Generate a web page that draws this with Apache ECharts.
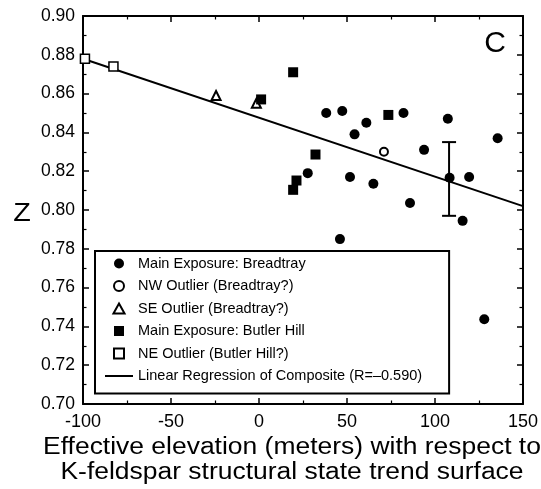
<!DOCTYPE html>
<html>
<head>
<meta charset="utf-8">
<script src="https://cdn.jsdelivr.net/npm/echarts@6/dist/echarts.min.js"></script>
<style>
  html, body { margin: 0; padding: 0; background: #fff; }
  #chart { width: 541px; height: 489px; }
</style>
</head>
<body>
<div id="chart"></div>
<script>
// tick labels
const xTicks = [-100, -50, 0, 50, 100, 150];
const yTicks = [0.70, 0.72, 0.74, 0.76, 0.78, 0.80, 0.82, 0.84, 0.86, 0.88, 0.90];

// Main Exposure: Breadtray (filled circles)
const breadtrayX = [38.2, 47.3, 61, 54.3, 82.1, 107.3, 135.6, 93.8, 27.7, 51.7, 65, 108.3, 119.4, 85.8, 115.7, 46, 128];
const breadtrayY = [0.850, 0.851, 0.845, 0.839, 0.850, 0.847, 0.837, 0.831, 0.819, 0.817, 0.8135, 0.8166, 0.817, 0.8036, 0.7944, 0.785, 0.7437];
// NW Outlier (open circle)
const nwX = [71];
const nwY = [0.830];
// SE Outlier (open triangles)
const seX = [-24.4, -1.5];
const seY = [0.859, 0.855];
// Main Exposure: Butler Hill (filled squares)
const butlerX = [1.2, 19.4, 73.5, 32.1, 21.3, 19.4];
const butlerY = [0.857, 0.871, 0.849, 0.8286, 0.8152, 0.8104];
// NE Outlier (open squares)
const neX = [-98.9, -82.7];
const neY = [0.878, 0.874];
// regression line end points
const regX = [-100, 150];
const regY = [0.878, 0.802];
// error bar
const errX = [108];
const errLow = [0.797];
const errHigh = [0.835];

const zip = (xs, ys) => xs.map((x, i) => [x, ys[i]]);

const FONT = "'Liberation Sans', Arial, Helvetica, sans-serif";
const names = [
  "Main Exposure: Breadtray",
  "NW Outlier (Breadtray?)",
  "SE Outlier (Breadtray?)",
  "Main Exposure: Butler Hill",
  "NE Outlier (Butler Hill?)",
  "Linear Regression of Composite (R=\u20130.590)",
];

const baseX = {
  type: "value",
  min: xTicks[0],
  max: xTicks[xTicks.length - 1],
  interval: xTicks[1] - xTicks[0],
  splitLine: { show: false },
  axisLine: { show: true, onZero: false, lineStyle: { color: "#000", width: 2 } },
  axisTick: { show: true, inside: true, length: 6, lineStyle: { color: "#000", width: 1.5 } },
  minorTick: { show: true, splitNumber: 2, length: 3.5, lineStyle: { color: "#000", width: 1.2 } },
};
const baseY = {
  type: "value",
  min: yTicks[0],
  max: yTicks[yTicks.length - 1],
  interval: 0.02,
  splitLine: { show: false },
  axisLine: { show: true, onZero: false, lineStyle: { color: "#000", width: 2 } },
  axisTick: { show: true, inside: true, length: 6, lineStyle: { color: "#000", width: 1.5 } },
  minorTick: { show: true, splitNumber: 2, length: 3.5, lineStyle: { color: "#000", width: 1.2 } },
};

const myChart = echarts.init(document.getElementById("chart"));

// square/triangle legend icons as paths so they keep their aspect
const triIcon = "path://M5 0L10 9L0 9Z";
const sqIcon = "path://M0 0H10V10H0Z";

const option = {
  animation: false,
  backgroundColor: "#fff",
  grid: { left: 83, right: 18, top: 16, bottom: 85 },
  xAxis: [
    Object.assign({}, baseX, {
      position: "bottom",
      axisLabel: { margin: 9, color: "#000", fontSize: 18, fontFamily: FONT },
    }),
    Object.assign({}, baseX, { position: "top", axisLabel: { show: false } }),
  ],
  yAxis: [
    Object.assign({}, baseY, {
      position: "left",
      axisLabel: {
        margin: 8, color: "#000", fontSize: 17.5, fontFamily: FONT,
        formatter: (v) => v.toFixed(2),
      },
    }),
    Object.assign({}, baseY, { position: "right", axisLabel: { show: false } }),
  ],
  legend: {
    orient: "vertical",
    left: 95,
    top: 251,
    padding: [5, 27, 10, 10],
    borderColor: "#000",
    borderWidth: 2,
    backgroundColor: "#fff",
    itemWidth: 28,
    itemHeight: 10,
    itemGap: 7.5,
    symbolKeepAspect: true,
    selectedMode: false,
    textStyle: { color: "#000", fontSize: 14.5, lineHeight: 15, fontFamily: FONT },
    data: [
      { name: names[0] },
      { name: names[1] },
      { name: names[2], icon: triIcon },
      { name: names[3], icon: sqIcon },
      { name: names[4], icon: sqIcon },
      { name: names[5], icon: "path://M0 0H28V2H0Z" },
    ],
  },
  graphic: [
    {
      type: "text", x: 22, y: 214, z: 10, scaleX: 1.15,
      style: { text: "Z", fontSize: 25, fontFamily: FONT, fill: "#000", textAlign: "center", textVerticalAlign: "middle" },
    },
    {
      type: "text", x: 495, y: 44, z: 10,
      style: { text: "C", fontSize: 30, fontFamily: FONT, fill: "#000", textAlign: "center", textVerticalAlign: "middle" },
    },
    {
      type: "text", x: 292, y: 435, z: 10, scaleX: 1.15,
      style: {
        text: "Effective elevation (meters) with respect to\nK-feldspar structural state trend surface",
        fontSize: 23, lineHeight: 25, fontFamily: FONT, fill: "#000",
        textAlign: "center", textVerticalAlign: "top",
      },
    },
  ],
  series: [
    {
      name: names[5],
      type: "line",
      data: zip(regX, regY),
      symbol: "none",
      z: 1,
      lineStyle: { color: "#000", width: 2 },
      itemStyle: { color: "#000" },
    },
    {
      name: "error",
      type: "custom",
      z: 2,
      data: errX.map((x, i) => [x, errLow[i], errHigh[i]]),
      encode: { x: 0, y: [1, 2] },
      renderItem: function (params, api) {
        const x = api.value(0);
        const lo = api.coord([x, api.value(1)]);
        const hi = api.coord([x, api.value(2)]);
        const half = 7;
        const st = { stroke: "#000", lineWidth: 2 };
        return {
          type: "group",
          children: [
            { type: "line", shape: { x1: lo[0], y1: lo[1], x2: hi[0], y2: hi[1] }, style: st },
            { type: "line", shape: { x1: lo[0] - half, y1: lo[1], x2: lo[0] + half, y2: lo[1] }, style: st },
            { type: "line", shape: { x1: hi[0] - half, y1: hi[1], x2: hi[0] + half, y2: hi[1] }, style: st },
          ],
        };
      },
    },
    {
      name: names[0],
      type: "scatter",
      data: zip(breadtrayX, breadtrayY),
      symbol: "circle",
      symbolSize: 10,
      z: 3,
      itemStyle: { color: "#000", opacity: 1 },
    },
    {
      name: names[1],
      type: "scatter",
      data: zip(nwX, nwY),
      symbol: "circle",
      symbolSize: 8,
      z: 3,
      itemStyle: { color: "#fff", borderColor: "#000", borderWidth: 2, opacity: 1 },
    },
    {
      name: names[2],
      type: "scatter",
      data: zip(seX, seY),
      symbol: "triangle",
      symbolSize: 9,
      z: 3,
      itemStyle: { color: "#fff", borderColor: "#000", borderWidth: 2, opacity: 1 },
    },
    {
      name: names[3],
      type: "scatter",
      data: zip(butlerX, butlerY),
      symbol: "rect",
      symbolSize: 10,
      z: 3,
      itemStyle: { color: "#000", opacity: 1 },
    },
    {
      name: names[4],
      type: "scatter",
      data: zip(neX, neY),
      symbol: "rect",
      symbolSize: 9,
      z: 3,
      itemStyle: { color: "#fff", borderColor: "#000", borderWidth: 1.5, opacity: 1 },
    },
  ],
};

myChart.setOption(option);
</script>
</body>
</html>
